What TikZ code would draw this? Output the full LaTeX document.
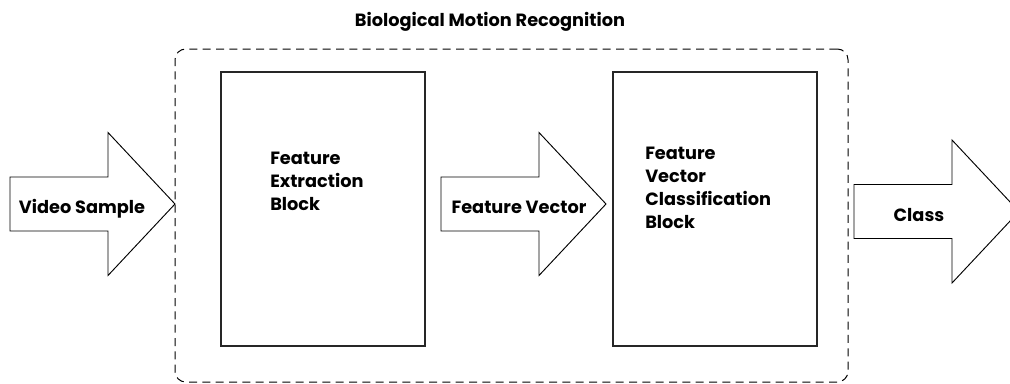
\documentclass[tikz,border=0pt]{standalone}
\usepackage{fontspec}
\setmainfont{Poppins}
\usepackage{tikz}

\tikzset{
  block/.style={draw=black!85, line width=0.9pt, minimum width=153pt, minimum height=205.5pt, inner sep=0pt},
  frame/.style={draw=black, dash pattern=on 6pt off 4pt, line width=0.75pt, rounded corners=8pt, minimum width=504.75pt, minimum height=249.75pt, inner sep=0pt},
  fat/.style={draw=black, line width=0.7pt, fill=white},
  label/.style={font=\fontsize{13.3}{17.25}\selectfont\bfseries, inner sep=0pt},
  blocktext/.style={label, align=left, anchor=north west}
}

% fat arrow from its tail (x,y)
\newcommand{\fatarrow}[2]{%
  \draw[fat] (#1,#2) ++(0,-27) -- ++(98,0) -- ++(0,-44.5) -- ++(67,71.5)
    -- ++(-67,71.5) -- ++(0,-44.5) -- ++(-98,0) -- cycle;}

\begin{document}
\begin{tikzpicture}[x=0.75pt, y=-0.75pt]
  \useasboundingbox (0,0) rectangle (1010,383);

  % Define nodes
  \node[frame]                            (system)  at (511.5,215.5) {};
  \node[label, anchor=base]               (title)   at (490,26) {Biological Motion Recognition};
  \node[block]                            (extract) at (323,209) {};
  \node[block]                            (classify) at (715,209) {};
  \node[blocktext]                        (extract-text)  at (270,152) {Feature\\Extraction\\Block};
  \node[blocktext]                        (classify-text) at (645,147) {Feature\\Vector\\Classification\\Block};

  % Arrows
  \fatarrow{10}{204}
  \fatarrow{441}{204}
  \fatarrow{854}{211.5}
  \node[label, anchor=base]               (video)   at (82,213)  {Video Sample};
  \node[label, anchor=base]               (vector)  at (519,213) {Feature Vector};
  \node[label, anchor=base]               (class)   at (919,221) {Class};

\end{tikzpicture}
\end{document}
